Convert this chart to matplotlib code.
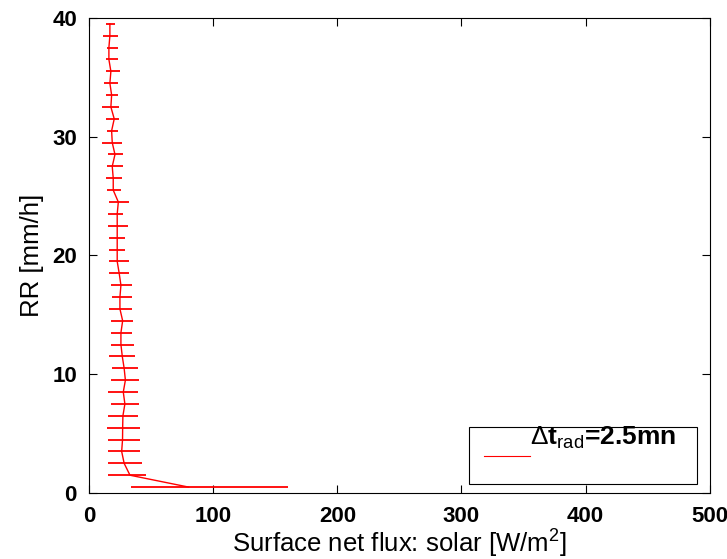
"""
Rain rate vs surface net solar flux, with horizontal spread bars
"""
import matplotlib

matplotlib.use("Agg")
import matplotlib.pyplot as plt
import numpy as np
from matplotlib.lines import Line2D
from matplotlib.patches import Rectangle

plt.rcParams["font.family"] = ["Liberation Sans", "DejaVu Sans"]
plt.rcParams["mathtext.fontset"] = "custom"
plt.rcParams["mathtext.rm"] = "Liberation Sans"
plt.rcParams["mathtext.bf"] = "Liberation Sans:bold"
plt.rcParams["mathtext.it"] = "Liberation Sans:italic"

# Rain-rate bins [mm/h]
rain_rate = np.arange(0.5, 40.0, 1.0)

# Mean flux and the ends of the spread bar [W/m2]
flux_mean = [80, 32.7, 28, 26, 26.7, 26.8, 27, 28.6, 27.3, 29,
             28, 26.5, 25.4, 25.4, 26.8, 24.6, 24.6, 25.4, 24, 22.4,
             22.4, 22.4, 22.4, 22.4, 23.3, 19.2, 19.2, 18.4, 20.6, 18.4,
             17.9, 20, 17.3, 17.9, 16.5, 17.3, 15.7, 15.7, 16.5, 16.5]
flux_low = [33.5, 15.2, 15.2, 15, 15, 13.8, 15, 17.3, 15.2, 17.3,
            18.4, 16, 17.3, 17.3, 17.3, 16, 18.4, 17.3, 16, 16,
            16, 16, 14.7, 14.7, 16, 14.5, 13, 13.8, 15.2, 10.3,
            13.8, 13, 10.3, 13, 11.7, 13, 13, 13.8, 11.1, 13]
flux_high = [160, 45.6, 42.6, 41, 41, 41, 38.8, 40, 38.8, 40,
             38.8, 36.7, 35.9, 34, 35.3, 34, 34, 34, 31.9, 31.9,
             28.6, 28.6, 31.3, 27.3, 31.9, 25.7, 26, 27.3, 27.3, 26.5,
             22.7, 23.8, 24, 23.3, 23.3, 24.6, 22.7, 22.7, 22.7, 20.6]

legend_label = r"$\Delta$t$_{\rm rad}$=2.5mn"

mean = np.array(flux_mean)
xerr = [mean - np.array(flux_low), np.array(flux_high) - mean]

fig = plt.figure(figsize=(7.27, 5.59), dpi=100)
ax = fig.add_axes([0.123, 0.118, 0.853, 0.85])

ax.errorbar(mean, rain_rate, xerr=xerr, color="red", lw=1.0,
            elinewidth=1.3, capsize=0)

ax.set_xlim(0, 500)
ax.set_ylim(0, 40)
ax.set_xticks([0, 100, 200, 300, 400, 500])
ax.set_yticks([0, 10, 20, 30, 40])
ax.tick_params(direction="in", length=6, width=0.8, top=True, right=True,
               labelsize=16, pad=9)
for lab in ax.get_xticklabels() + ax.get_yticklabels():
    lab.set_fontweight("bold")
for spine in ax.spines.values():
    spine.set_linewidth(0.8)

ax.set_xlabel("Surface net flux: solar [W/m$^2$]", fontsize=18.5, labelpad=1)
ax.set_ylabel("RR [mm/h]", fontsize=18.5, labelpad=6)

# MATLAB-style legend box
ax.add_patch(Rectangle((0.612, 0.019), 0.368, 0.12, transform=ax.transAxes,
                       facecolor="white", edgecolor="black", lw=0.8, zorder=5))
ax.add_line(Line2D([0.636, 0.71], [0.078, 0.078], transform=ax.transAxes,
                   color="red", lw=0.8, zorder=6))
ax.text(0.71, 0.101, legend_label, transform=ax.transAxes, fontsize=19,
        fontweight="bold", va="baseline", ha="left", zorder=6)

fig.savefig("out.png", dpi=100)
